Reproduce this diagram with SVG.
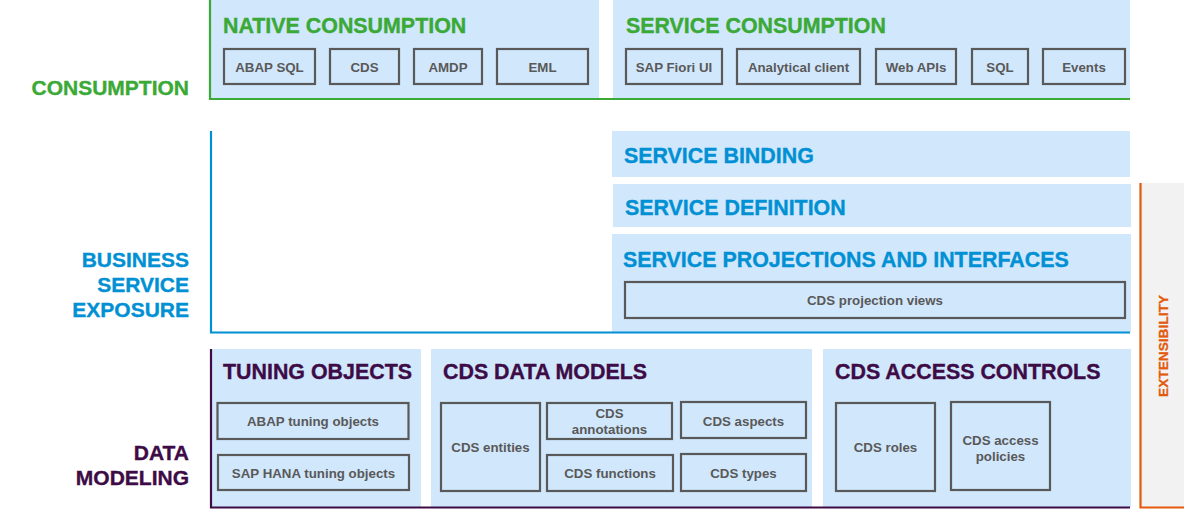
<svg xmlns="http://www.w3.org/2000/svg" width="1184" height="510" viewBox="0 0 1184 510">
<style>
.panel{fill:#d1e7fc}
.box{fill:none;stroke:#595959;stroke-width:2.2}
.bt{font-family:"Liberation Sans",Arial,sans-serif;font-weight:bold;font-size:13.3px;fill:#595959;text-anchor:middle}
.tt{font-family:"Liberation Sans",Arial,sans-serif;font-weight:bold;font-size:21.4px;stroke-width:0.35}
.lb{font-family:"Liberation Sans",Arial,sans-serif;font-weight:bold;font-size:21px;text-anchor:end;stroke-width:0.35}
.g{fill:#3aa935;stroke:#3aa935}
.b{fill:#0090d3;stroke:#0090d3}
.p{fill:#3d0b46;stroke:#3d0b46}
.line{fill:none;stroke-width:2.2}
</style>
<rect width="1184" height="510" fill="#ffffff"/>

<g id="extensibility">
<rect x="1140" y="183" width="44" height="325" fill="#f2f2f2"/>
<path class="line" d="M1140.5,183 V507.5 H1184" stroke="#e35a0c"/>
<text transform="translate(1168,346) rotate(-90)" text-anchor="middle" font-family="'Liberation Sans',Arial,sans-serif" font-weight="bold" font-size="13.7" fill="#e35a0c" stroke="#e35a0c" stroke-width="0.3">EXTENSIBILITY</text>
</g>

<g id="native-consumption">
<rect class="panel" x="210" y="0" width="389" height="98"/>
<text class="tt g" x="223" y="33">NATIVE CONSUMPTION</text>
<rect class="box" x="224" y="49" width="91" height="35"/><text class="bt" x="269.5" y="71.5">ABAP SQL</text>
<rect class="box" x="330" y="49" width="69" height="35"/><text class="bt" x="364.5" y="71.5">CDS</text>
<rect class="box" x="414" y="49" width="68" height="35"/><text class="bt" x="448" y="71.5">AMDP</text>
<rect class="box" x="497" y="49" width="91" height="35"/><text class="bt" x="542.5" y="71.5">EML</text>
</g>

<g id="service-consumption">
<rect class="panel" x="613" y="0" width="517" height="98"/>
<text class="tt g" x="626" y="33">SERVICE CONSUMPTION</text>
<rect class="box" x="626" y="49" width="96" height="35"/><text class="bt" x="674" y="71.5">SAP Fiori UI</text>
<rect class="box" x="737" y="49" width="123" height="35"/><text class="bt" x="798.5" y="71.5">Analytical client</text>
<rect class="box" x="876" y="49" width="80" height="35"/><text class="bt" x="916" y="71.5">Web APIs</text>
<rect class="box" x="972" y="49" width="56" height="35"/><text class="bt" x="1000" y="71.5">SQL</text>
<rect class="box" x="1043" y="49" width="82" height="35"/><text class="bt" x="1084" y="71.5">Events</text>
</g>

<g id="service-binding">
<rect class="panel" x="612" y="131" width="518" height="46"/>
<text class="tt b" x="624" y="163">SERVICE BINDING</text>
</g>

<g id="service-definition">
<rect class="panel" x="613" y="184" width="518" height="43"/>
<text class="tt b" x="625" y="215">SERVICE DEFINITION</text>
</g>

<g id="service-projections">
<rect class="panel" x="612" y="234" width="519" height="98"/>
<text class="tt b" x="623" y="267">SERVICE PROJECTIONS AND INTERFACES</text>
<rect class="box" x="625" y="282" width="500" height="36"/><text class="bt" x="875" y="304.5">CDS projection views</text>
</g>

<g id="tuning-objects">
<rect class="panel" x="212" y="349" width="209" height="158"/>
<text class="tt p" x="223" y="379">TUNING OBJECTS</text>
<rect class="box" x="217.5" y="403" width="191" height="36"/><text class="bt" x="313" y="426">ABAP tuning objects</text>
<rect class="box" x="218" y="455" width="191" height="35"/><text class="bt" x="313.5" y="477.5">SAP HANA tuning objects</text>
</g>

<g id="cds-data-models">
<rect class="panel" x="431" y="349" width="381" height="158"/>
<text class="tt p" x="443" y="379">CDS DATA MODELS</text>
<rect class="box" x="441" y="403" width="99" height="88"/><text class="bt" x="490.5" y="451.5">CDS entities</text>
<rect class="box" x="547" y="403" width="125" height="36"/><text class="bt" x="609.5" y="417.5">CDS</text><text class="bt" x="609.5" y="433.5">annotations</text>
<rect class="box" x="681" y="402" width="125" height="36"/><text class="bt" x="743.5" y="425.5">CDS aspects</text>
<rect class="box" x="547" y="455" width="126" height="36"/><text class="bt" x="610" y="477.5">CDS functions</text>
<rect class="box" x="681" y="454" width="125" height="37"/><text class="bt" x="743.5" y="477.5">CDS types</text>
</g>

<g id="cds-access-controls">
<rect class="panel" x="823" y="349" width="308" height="158"/>
<text class="tt p" x="835" y="379">CDS ACCESS CONTROLS</text>
<rect class="box" x="836" y="403" width="99" height="88"/><text class="bt" x="885.5" y="451.5">CDS roles</text>
<rect class="box" x="951" y="402" width="99" height="88"/><text class="bt" x="1000.5" y="444.5">CDS access</text><text class="bt" x="1000.5" y="460.5">policies</text>
</g>

<g id="section-lines">
<path class="line" d="M210,0 V99 H1130" stroke="#3aa935"/>
<path class="line" d="M211,131 V332.5 H1130" stroke="#0090d3"/>
<path class="line" d="M211,349 V507.5 H1130" stroke="#3d0b46"/>
</g>

<g id="layer-labels">
<text class="lb g" x="189" y="95">CONSUMPTION</text>
<text class="lb b" x="189" y="267">BUSINESS</text>
<text class="lb b" x="189" y="292">SERVICE</text>
<text class="lb b" x="189" y="317">EXPOSURE</text>
<text class="lb p" x="189" y="460">DATA</text>
<text class="lb p" x="189" y="485">MODELING</text>
</g>
</svg>
